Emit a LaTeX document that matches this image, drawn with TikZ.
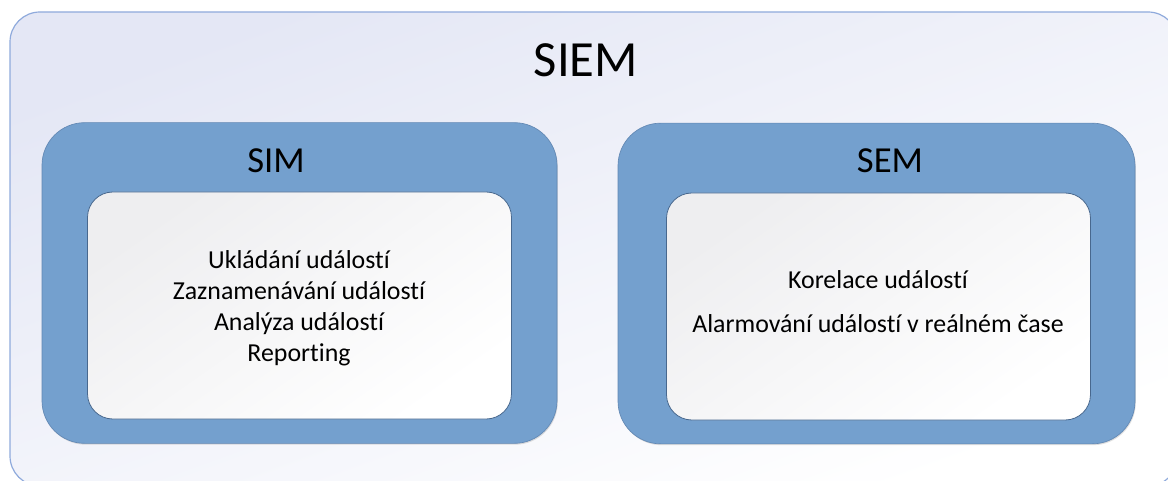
\documentclass[tikz,border=0pt]{standalone}
\usepackage{fontspec}
\setmainfont[Ligatures={NoCommon}]{Carlito}
\usetikzlibrary{shadows}
\definecolor{outerline}{RGB}{143,170,220}
\definecolor{outertop}{RGB}{228,231,245}
\definecolor{framefill}{RGB}{116,160,206}
\definecolor{frameline}{RGB}{98,136,180}
\definecolor{innerline}{RGB}{72,104,142}
\definecolor{innertop}{RGB}{238,238,240}
\tikzset{
  px/.style={x=0.75pt,y=-0.75pt},
  outerbox/.style={draw=outerline, line width=0.9pt, rounded corners=22.5pt,
    shading=axis, top color=outertop, bottom color=white, shading angle=20,
    minimum width=876pt, minimum height=355.5pt, inner sep=0pt},
  framebox/.style={draw=frameline, line width=0.5pt, fill=framefill, rounded corners=32pt,
    drop shadow={opacity=0.25, shadow xshift=0.6pt, shadow yshift=-1pt},
    minimum height=240.5pt, inner sep=0pt},
  contentbox/.style={draw=innerline, line width=0.6pt, rounded corners=19pt,
    shading=axis, top color=innertop, bottom color=white, shading angle=35,
    minimum width=318pt, minimum height=170.25pt, inner sep=0pt},
  title/.style={anchor=base, font=\fontsize{38}{40}\selectfont, text=black},
  subtitle/.style={anchor=base, font=\fontsize{27.5}{30}\selectfont, text=black},
  item/.style={anchor=base, font=\fontsize{19.4}{22}\selectfont, text=black, inner sep=0pt}
}
\begin{document}
\begin{tikzpicture}[px]
  \useasboundingbox (0,0) rectangle (1168,481);
  \begin{scope}
    \clip (0,0) rectangle (1168,481);
    % enclosing SIEM panel
    \node[outerbox] (siem) at (594,249) {};
    % SIM and SEM frames with their white content panels
    \node[framebox, minimum width=386.25pt] (simframe) at (299.5,283) {};
    \node[framebox, minimum width=387.75pt] (semframe) at (876.5,283.5) {};
    \node[contentbox] (simbody) at (299.5,305.5) {};
    \node[contentbox] (sembody) at (878.5,306.5) {};
  \end{scope}
  % headings
  \node[title] (siemtitle) at (586,77) {SIEM};
  \node[subtitle] (simtitle) at (276,173) {SIM};
  \node[subtitle] (semtitle) at (890,173) {SEM};
  % SIM functions
  \node[item] (sim1) at (299,268) {Ukládání událostí};
  \node[item] (sim2) at (299,299.5) {Zaznamenávání událostí};
  \node[item] (sim3) at (299,330) {Analýza událostí};
  \node[item] (sim4) at (299,361) {Reporting};
  % SEM functions
  \node[item] (sem1) at (878,288) {Korelace událostí};
  \node[item] (sem2) at (878,332) {Alarmování událostí v reálném čase};
\end{tikzpicture}
\end{document}
